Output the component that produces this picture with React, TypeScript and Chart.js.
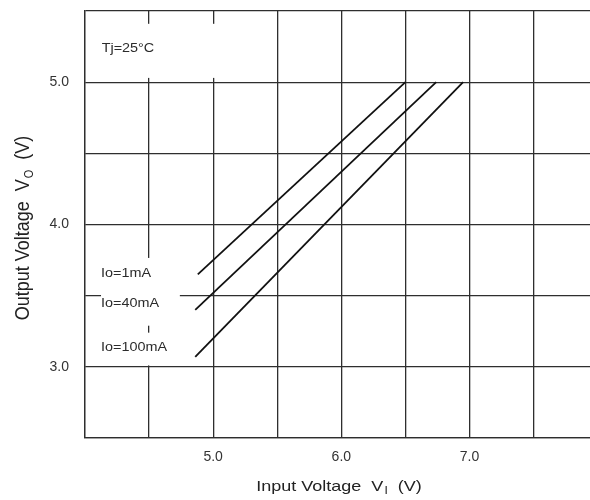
import React, { useEffect, useRef } from "react";
import { Chart, registerables } from "chart.js";

Chart.register(...registerables);

// ---- data ----
const seriesNames = ["Io=1mA", "Io=40mA", "Io=100mA"];
const io1X = [4.88, 6.5];
const io1Y = [3.65, 5.0];
const io40X = [4.86, 6.74];
const io40Y = [3.4, 5.0];
const io100X = [4.86, 6.95];
const io100Y = [3.07, 5.0];

const xTickValues = [5.0, 6.0, 7.0];
const yTickValues = [3.0, 4.0, 5.0];
const xMin = 4.0;
const xMax = 7.94; // plot is cut at the right edge of the picture
const yMin = 2.5;
const yMax = 5.5;
const gridStep = 0.5;

const conditionLabel = "Tj=25°C";
const xTitle = ["Input Voltage  V", "I", "  (V)"];
const yTitle = ["Output Voltage  V", "O", "  (V)"];

const FONT = "'Liberation Sans', Arial, Helvetica, sans-serif";
const GRID = "#2e2e2e";

function toPoints(xs: number[], ys: number[]) {
  return xs.map((x, i) => ({ x, y: ys[i] }));
}

function drawStretched(ctx: CanvasRenderingContext2D, text: string, x: number, y: number, size: number, sx: number) {
  ctx.save();
  ctx.translate(x, y);
  ctx.scale(sx, 1);
  ctx.font = `${size}px ${FONT}`;
  ctx.textAlign = "left";
  ctx.textBaseline = "middle";
  ctx.fillText(text, 0, 0);
  ctx.restore();
}

// draws main + subscript + tail centred at origin of current transform
function drawSubTitle(ctx: CanvasRenderingContext2D, parts: string[], size: number, subSize: number) {
  ctx.textBaseline = "middle";
  ctx.textAlign = "left";
  ctx.font = `${size}px ${FONT}`;
  const w0 = ctx.measureText(parts[0]).width;
  const w2 = ctx.measureText(parts[2]).width;
  ctx.font = `${subSize}px ${FONT}`;
  const w1 = ctx.measureText(parts[1]).width;
  const total = w0 + w1 + w2 + 1;
  let x = -total / 2;
  ctx.font = `${size}px ${FONT}`;
  ctx.fillText(parts[0], x, 0);
  x += w0 + 1;
  ctx.font = `${subSize}px ${FONT}`;
  ctx.fillText(parts[1], x, size * 0.3);
  x += w1;
  ctx.font = `${size}px ${FONT}`;
  ctx.fillText(parts[2], x, 0);
}

const annotationPlugin = {
  id: "annotations",
  afterDatasetsDraw(chart: any) {
    const { ctx, scales } = chart;
    const xs = scales.x;
    const ys = scales.y;
    const px = (v: number) => xs.getPixelForValue(v);
    const py = (v: number) => ys.getPixelForValue(v);
    ctx.save();
    // white label boxes
    ctx.fillStyle = "#ffffff";
    const boxes = [
      [4.08, 5.41, 5.4, 5.03],
      [4.125, 3.765, 4.74, 3.289],
      [4.125, 3.24, 4.74, 3.01],
    ];
    for (const [x0, y0, x1, y1] of boxes) {
      ctx.fillRect(px(x0), py(y0), px(x1) - px(x0), py(y1) - py(y0));
    }
    ctx.fillStyle = "#2b2b2b";
    drawStretched(ctx, conditionLabel, px(4.13), py(5.238), 12, 1.2);
    const labelY = [3.653, 3.441, 3.137];
    seriesNames.forEach((n, i) => drawStretched(ctx, n, px(4.125), py(labelY[i]), 12, 1.2));

    // axis titles
    ctx.fillStyle = "#222222";
    ctx.save();
    ctx.translate(339, 487);
    ctx.scale(1.2, 1);
    drawSubTitle(ctx, xTitle, 15, 10);
    ctx.restore();

    ctx.save();
    ctx.translate(24, 228);
    ctx.rotate(-Math.PI / 2);
    ctx.scale(1, 1.1);
    drawSubTitle(ctx, yTitle, 18, 11);
    ctx.restore();

    ctx.restore();
  },
};

export default function App() {
  const ref = useRef<HTMLCanvasElement | null>(null);
  useEffect(() => {
    if (!ref.current) return;
    const lineStyle = {
      borderColor: "#111111",
      borderWidth: 1.8,
      pointRadius: 0,
      showLine: true,
      fill: false,
    };
    const chart = new Chart(ref.current, {
      type: "scatter",
      data: {
        datasets: [
          { label: seriesNames[0], data: toPoints(io1X, io1Y), ...lineStyle },
          { label: seriesNames[1], data: toPoints(io40X, io40Y), ...lineStyle },
          { label: seriesNames[2], data: toPoints(io100X, io100Y), ...lineStyle },
        ],
      },
      options: {
        responsive: false,
        animation: false,
        devicePixelRatio: 1,
        layout: { padding: { top: 11, right: 0, left: 0, bottom: 0 } },
        plugins: { legend: { display: false }, tooltip: { enabled: false } },
        scales: {
          x: {
            type: "linear",
            min: xMin,
            max: xMax,
            ticks: {
              stepSize: gridStep,
              includeBounds: false,
              padding: 11,
              color: "#333333",
              font: { family: FONT, size: 14 },
              maxRotation: 0,
              autoSkip: false,
              callback: (v: any) => (xTickValues.some((t) => Math.abs(t - v) < 1e-6) ? Number(v).toFixed(1) : ""),
            },
            grid: { color: GRID, lineWidth: 1.3, drawTicks: false },
            border: { display: true, color: GRID, width: 1.3 },
            afterFit: (s: any) => {
              s.height = 62;
              s.paddingLeft = 0;
              s.paddingRight = 0;
            },
          },
          y: {
            type: "linear",
            min: yMin,
            max: yMax,
            ticks: {
              stepSize: gridStep,
              padding: 16,
              color: "#333333",
              font: { family: FONT, size: 14 },
              autoSkip: false,
              callback: (v: any) => (yTickValues.some((t) => Math.abs(t - v) < 1e-6) ? Number(v).toFixed(1) : ""),
            },
            grid: { color: GRID, lineWidth: 1.3, drawTicks: false },
            border: { display: true, color: GRID, width: 1.3 },
            afterFit: (s: any) => {
              s.width = 85;
              s.paddingTop = 0;
              s.paddingBottom = 0;
            },
          },
        },
      },
      plugins: [annotationPlugin],
    } as any);
    return () => chart.destroy();
  }, []);
  return (
    <div style={{ position: "absolute", left: 0, top: 0, width: 590, height: 500, overflow: "hidden", background: "#fff" }}>
      <canvas ref={ref} width={590} height={500} style={{ display: "block" }} />
    </div>
  );
}
